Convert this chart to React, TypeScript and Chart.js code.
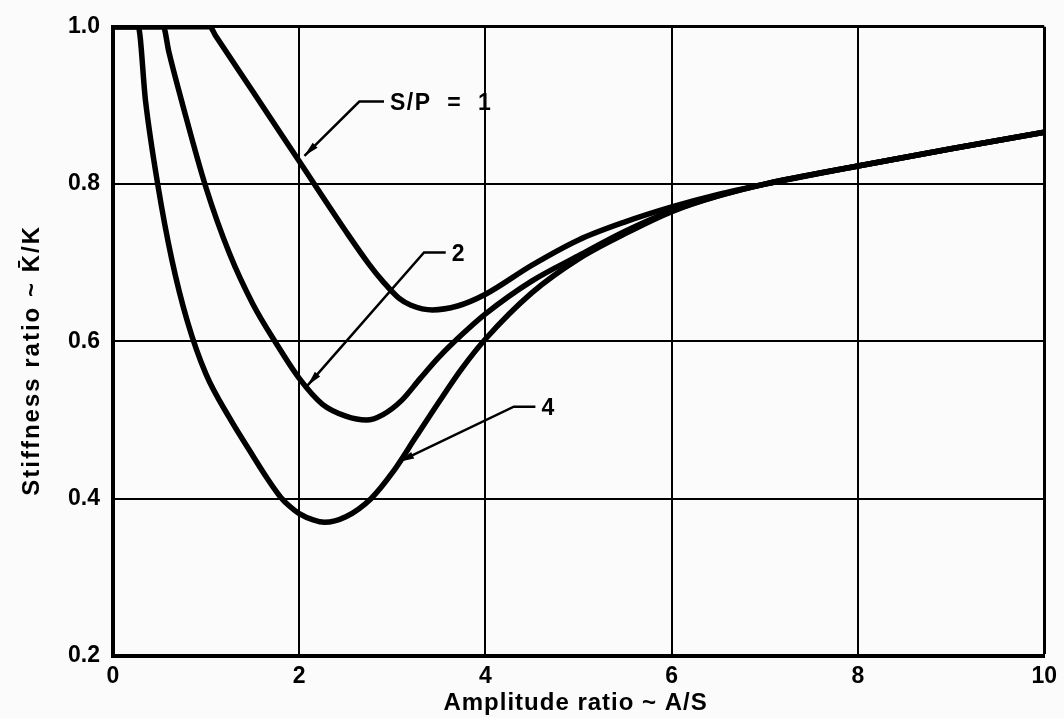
import React, { useEffect, useRef } from "react";
import { Chart, registerables } from "chart.js";

Chart.register(...registerables);

// ---- data ----
const xTicks = [0, 2, 4, 6, 8, 10];
const yTicks = [0.2, 0.4, 0.6, 0.8, 1.0];

const xAxisTitle = "Amplitude ratio ~ A/S";
const yAxisTitle = "Stiffness ratio ~ K\u0304/K";

// S/P = 1
const sp1X = [0, 1.04, 1.1, 1.5, 2.0, 2.5, 2.75, 2.9, 3.07, 3.2, 3.43, 3.7, 4.0, 4.5, 5.0, 5.5, 6.0, 6.5, 7.0, 8.0, 9.0, 10.0];
const sp1Y = [1.0, 1.0, 0.989, 0.918, 0.829, 0.74, 0.698, 0.676, 0.655, 0.646, 0.64, 0.645, 0.66, 0.697, 0.729, 0.752, 0.771, 0.787, 0.8, 0.823, 0.845, 0.866];

// S/P = 2
const sp2X = [0, 0.54, 0.6, 0.75, 1.0, 1.25, 1.5, 1.75, 2.0, 2.25, 2.5, 2.72, 2.9, 3.1, 3.3, 3.5, 3.75, 4.0, 4.5, 5.0, 5.5, 6.0, 6.5, 7.0, 8.0, 9.0, 10.0];
const sp2Y = [1.0, 1.0, 0.968, 0.9, 0.795, 0.712, 0.648, 0.598, 0.553, 0.52, 0.505, 0.5, 0.507, 0.525, 0.553, 0.58, 0.609, 0.635, 0.677, 0.709, 0.74, 0.766, 0.785, 0.8, 0.823, 0.845, 0.866];

// S/P = 4
const sp4X = [0, 0.27, 0.35, 0.48, 0.63, 0.8, 1.0, 1.25, 1.5, 1.65, 1.8, 1.9, 2.0, 2.15, 2.27, 2.5, 2.77, 3.0, 3.25, 3.5, 3.75, 4.0, 4.5, 5.0, 5.5, 6.0, 6.5, 7.0, 8.0, 9.0, 10.0];
const sp4Y = [1.0, 1.0, 0.905, 0.8, 0.705, 0.625, 0.558, 0.503, 0.455, 0.427, 0.402, 0.39, 0.381, 0.373, 0.37, 0.377, 0.4, 0.433, 0.478, 0.523, 0.566, 0.603, 0.662, 0.705, 0.737, 0.765, 0.785, 0.8, 0.823, 0.845, 0.866];

// callouts (data coordinates)
const calloutText = ["S/P  =  1", "2", "4"];
const calloutTipX = [2.056, 2.09, 3.073];
const calloutTipY = [0.836, 0.544, 0.447];
const calloutElbowX = [2.645, 3.34, 4.304];
const calloutElbowY = [0.905, 0.713, 0.517];
const calloutEndX = [2.91, 3.573, 4.536];

const FONT = '"Liberation Sans", Arial, Helvetica, sans-serif';

function toPoints(xs: number[], ys: number[]) {
  return xs.map((x, i) => ({ x, y: ys[i] }));
}

const annotationPlugin = {
  id: "callouts",
  afterDatasetsDraw(chart: any) {
    const { ctx, scales } = chart;
    const xs = scales.x;
    const ys = scales.y;
    ctx.save();
    ctx.strokeStyle = "#000";
    ctx.fillStyle = "#000";
    ctx.lineWidth = 2.5;
    ctx.lineJoin = "miter";
    for (let i = 0; i < calloutText.length; i++) {
      const tx = xs.getPixelForValue(calloutTipX[i]);
      const ty = ys.getPixelForValue(calloutTipY[i]);
      const ex = xs.getPixelForValue(calloutElbowX[i]);
      const ey = ys.getPixelForValue(calloutElbowY[i]);
      const hx = xs.getPixelForValue(calloutEndX[i]);
      ctx.beginPath();
      ctx.moveTo(hx, ey);
      ctx.lineTo(ex, ey);
      ctx.lineTo(tx, ty);
      ctx.stroke();
      // arrow head
      const ang = Math.atan2(ty - ey, tx - ex);
      const len = 15;
      const hw = 3.5;
      const bx = tx - Math.cos(ang) * len;
      const by = ty - Math.sin(ang) * len;
      ctx.beginPath();
      ctx.moveTo(tx, ty);
      ctx.lineTo(bx + Math.sin(ang) * hw, by - Math.cos(ang) * hw);
      ctx.lineTo(bx - Math.sin(ang) * hw, by + Math.cos(ang) * hw);
      ctx.closePath();
      ctx.fill();
      // text
      ctx.font = `bold 23px ${FONT}`;
      (ctx as any).letterSpacing = "1.5px";
      ctx.textAlign = "left";
      ctx.textBaseline = "middle";
      ctx.fillText(calloutText[i], hx + 6, ey + 2);
      (ctx as any).letterSpacing = "0px";
    }
    ctx.restore();
  },
  afterDraw(chart: any) {
    const { ctx, chartArea } = chart;
    ctx.save();
    ctx.fillStyle = "#000";
    ctx.font = `bold 24px ${FONT}`;
    ctx.textAlign = "center";
    ctx.textBaseline = "middle";
    (ctx as any).letterSpacing = "1px";
    ctx.fillText(xAxisTitle, (chartArea.left + chartArea.right) / 2 - 3, chartArea.bottom + 47);
    (ctx as any).letterSpacing = "2px";
    ctx.translate(chartArea.left - 81, (chartArea.top + chartArea.bottom) / 2 + 19);
    ctx.rotate(-Math.PI / 2);
    ctx.fillText(yAxisTitle, 0, 0);
    ctx.restore();
  },
};

export default function App() {
  const canvasRef = useRef<HTMLCanvasElement | null>(null);

  useEffect(() => {
    document.body.style.margin = "0";
    document.body.style.overflow = "hidden";
    const canvas = canvasRef.current;
    if (!canvas) return;

    const lineStyle = {
      showLine: true,
      borderColor: "#000",
      borderWidth: 5.5,
      pointRadius: 0,
      fill: false,
      cubicInterpolationMode: "monotone" as const,
      borderJoinStyle: "round" as const,
    };

    const chart = new Chart(canvas, {
      type: "scatter",
      data: {
        datasets: [
          { label: "S/P = 1", data: toPoints(sp1X, sp1Y), ...lineStyle },
          { label: "S/P = 2", data: toPoints(sp2X, sp2Y), ...lineStyle },
          { label: "S/P = 4", data: toPoints(sp4X, sp4Y), ...lineStyle },
        ],
      },
      options: {
        responsive: false,
        animation: false,
        devicePixelRatio: 1,
        layout: { padding: { top: 22, right: 17, left: 0, bottom: 0 } },
        plugins: {
          legend: { display: false },
          tooltip: { enabled: false },
        },
        scales: {
          x: {
            type: "linear",
            min: 0,
            max: 10,
            afterBuildTicks: (s: any) => {
              s.ticks = xTicks.map((v) => ({ value: v }));
            },
            afterFit: (s: any) => {
              s.height = 62;
            },
            grid: {
              color: "#000",
              lineWidth: (c: any) => (c.tick && c.tick.value === 10 ? 3 : 2),
              drawTicks: false,
            },
            border: { display: true, color: "#000", width: 4 },
            ticks: {
              color: "#000",
              padding: 7,
              maxRotation: 0,
              font: { family: FONT, size: 23, weight: "bold" },
              callback: (v: any) => String(v),
            },
          },
          y: {
            type: "linear",
            min: 0.2,
            max: 1.0,
            afterBuildTicks: (s: any) => {
              s.ticks = yTicks.map((v) => ({ value: v }));
            },
            afterFit: (s: any) => {
              s.width = 113;
            },
            grid: {
              color: "#000",
              lineWidth: (c: any) => (c.tick && Math.abs(c.tick.value - 1) < 1e-6 ? 3 : 2),
              drawTicks: false,
            },
            border: { display: true, color: "#000", width: 4 },
            ticks: {
              color: "#000",
              padding: 13,
              font: { family: FONT, size: 23, weight: "bold" },
              callback: (v: any) => Number(v).toFixed(1),
            },
          },
        },
      },
      plugins: [annotationPlugin],
    });

    return () => {
      chart.destroy();
    };
  }, []);

  return (
    <div style={{ width: 1064, height: 718, background: "#fbfbfb" }}>
      <canvas ref={canvasRef} width={1064} height={718} style={{ display: "block" }} />
    </div>
  );
}
